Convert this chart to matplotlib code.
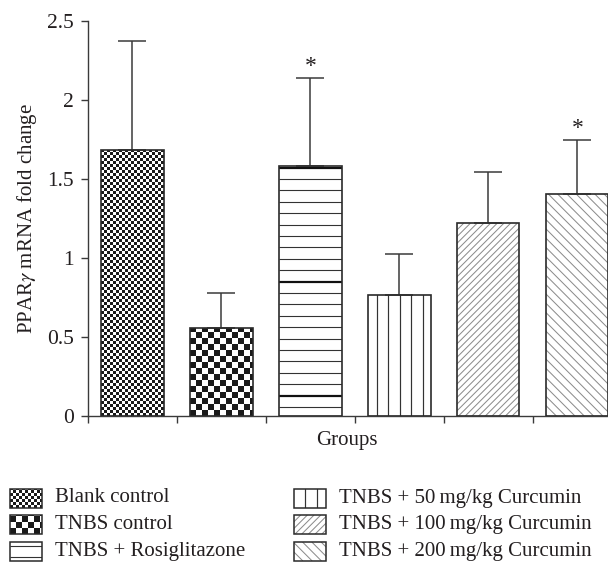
import numpy as np
import matplotlib
matplotlib.use("Agg")
import matplotlib.pyplot as plt
from matplotlib.collections import LineCollection, PolyCollection
from matplotlib.transforms import IdentityTransform

groups = ["Blank control", "TNBS control", "TNBS + Rosiglitazone",
          "TNBS + 50\u2009mg/kg Curcumin", "TNBS + 100\u2009mg/kg Curcumin",
          "TNBS + 200\u2009mg/kg Curcumin"]
means = [1.685, 0.554, 1.583, 0.765, 1.222, 1.408]
sd = [0.687, 0.222, 0.558, 0.260, 0.321, 0.340]
significant = [False, False, True, False, False, True]
fills = ["fine_check", "coarse_check", "hlines", "vlines", "fdiag", "bdiag"]

plt.rcParams["font.family"] = ["Liberation Serif", "DejaVu Serif"]
plt.rcParams["mathtext.fontset"] = "stix"
ink = "#231f20"
edge = "#2a2a2a"
PX = 0.72  # one pixel in points at dpi 100


def fill_artist(kind, bb, legend=False):
    # pattern drawn in screen pixels inside the box bb
    x0, y0 = round(bb.x0), round(bb.y0)
    w, h = bb.width, bb.height
    if kind in ("fine_check", "coarse_check"):
        c = 3 if kind == "fine_check" else 6
        verts = []
        for i in range(int(np.ceil(w / c)) + 1):
            for j in range(int(np.ceil(h / c)) + 1):
                if (i + j) % 2 == 0:
                    a, b = x0 + i * c, y0 + j * c
                    verts.append([(a, b), (a + c, b), (a + c, b + c), (a, b + c)])
        return PolyCollection(verts, facecolors="#1a1a1a", edgecolors="none",
                              antialiased=False, transform=IdentityTransform())
    segs, widths, colors = [], [], []
    if kind == "hlines":
        off = 4 if legend else 9
        k = 0
        while off + k * 11.4 < h:
            yy = round(y0 + off + k * 11.4) + 0.5
            segs.append([(x0, yy), (x0 + w + 1, yy)])
            thick = (k % 10 == 1) and not legend
            widths.append((2.2 if thick else 1.1) * PX)
            colors.append("#111111" if thick else "#333333")
            k += 1
    elif kind == "vlines":
        off = 10.5 if legend else 7.7
        k = 0
        while off + k * 11.5 < w:
            xx = round(x0 + off + k * 11.5) + 0.5
            segs.append([(xx, y0), (xx, y0 + h + 1)])
            widths.append(1.2 * PX)
            colors.append("#333333")
            k += 1
    elif kind in ("fdiag", "bdiag"):
        s = 6.7 if kind == "fdiag" else 9.3
        c = x0 - h
        while c < x0 + w + h:
            if kind == "fdiag":
                segs.append([(c, y0), (c + h, y0 + h)])
            else:
                segs.append([(c, y0), (c - h, y0 + h)])
            widths.append(1.0 * PX)
            colors.append("#8a8a8a")
            c += s
    return LineCollection(segs, linewidths=widths, colors=colors,
                          transform=IdentityTransform())


fig = plt.figure(figsize=(6.08, 5.64), dpi=100)
ax = fig.add_axes([88 / 608, 1 - 415.7 / 564, 520 / 608, 394.4 / 564])

x = np.arange(len(groups))
bars = ax.bar(x, means, width=0.70, facecolor="none", edgecolor=edge,
              linewidth=1.2, zorder=3)
ax.errorbar(x, means, yerr=[np.zeros(len(sd)), sd], fmt="none", ecolor="#3a3a3a",
            elinewidth=1.1, capsize=10.4, capthick=1.1, zorder=2.5)

ax.set_xlim(-0.5, 5.345)
ax.set_ylim(0, 2.5)

for bar, kind in zip(bars, fills):
    art = fill_artist(kind, bar.get_window_extent())
    art.set_zorder(2)
    ax.add_collection(art, autolim=False)
    art.set_clip_path(bar)

for xi, m, s, star in zip(x, means, sd, significant):
    if star:
        ax.annotate("*", (xi, m + s), xytext=(0, 1), textcoords="offset points",
                    ha="center", va="bottom", fontsize=17, color=ink)

ax.set_yticks([0, 0.5, 1, 1.5, 2, 2.5])
ax.set_yticklabels(["0", "0.5", "1", "1.5", "2", "2.5"])
ax.set_xticks([-0.5, 0.5, 1.5, 2.5, 3.5, 4.5])
ax.set_xticklabels([])
ax.tick_params(axis="both", direction="out", length=5, width=1.0, color="#3a3a3a",
               labelsize=15.5, labelcolor=ink, pad=5)
for side in ["top", "right"]:
    ax.spines[side].set_visible(False)
for side in ["left", "bottom"]:
    ax.spines[side].set_color("#3a3a3a")
    ax.spines[side].set_linewidth(1.0)

ax.set_ylabel("PPAR$\\gamma$ mRNA fold change", fontsize=15, color=ink)
ax.yaxis.set_label_coords(-0.094, 0.5)
ax.set_xlabel("Groups", fontsize=15, color=ink, va="center")
ax.xaxis.set_label_coords(0.498, -0.064)

# legend drawn in figure pixels
lg = fig.add_axes([0, 0, 1, 1], zorder=-1)
lg.set_xlim(0, 608)
lg.set_ylim(564, 0)
lg.axis("off")
sw_w, sw_h = 32, 19
rows_y = [498, 524.5, 551.5]
cols_x = [10, 294]
for i, (name, kind) in enumerate(zip(groups, fills)):
    cx = cols_x[i // 3]
    cy = rows_y[i % 3]
    top = cy - sw_h / 2
    box = plt.Rectangle((cx, top), sw_w, sw_h, facecolor="none",
                        edgecolor=edge, linewidth=1.1, zorder=3)
    lg.add_patch(box)
    art = fill_artist(kind, box.get_window_extent(), legend=True)
    art.set_zorder(2)
    lg.add_collection(art, autolim=False)
    art.set_clip_path(box)
    lg.text(cx + sw_w + 13, cy, name, fontsize=15, color=ink, va="center", ha="left")

fig.savefig("out.png", dpi=100)
